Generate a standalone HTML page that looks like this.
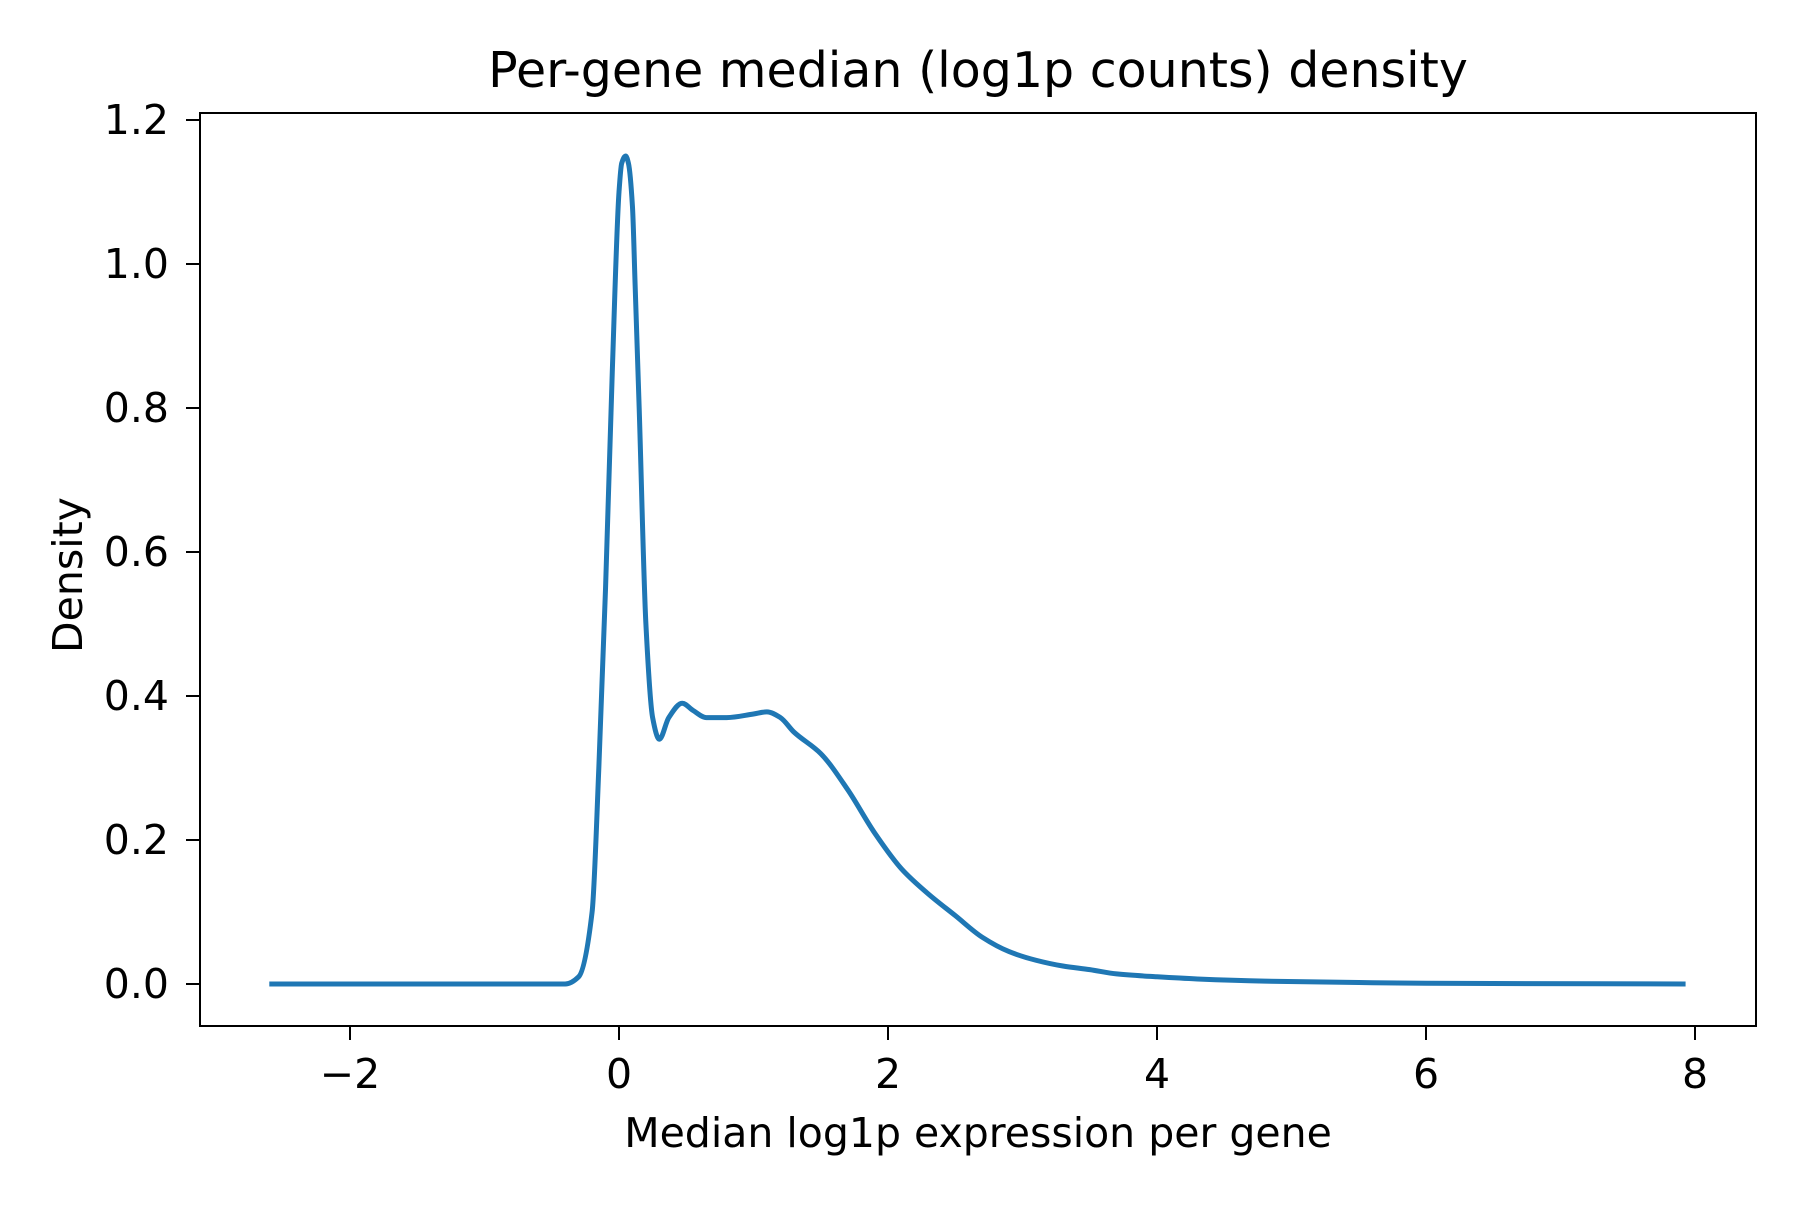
<!DOCTYPE html>
<html><head><meta charset="utf-8"><style>
body{margin:0;background:#fff}
svg text{font-family:"DejaVu Sans","Liberation Sans",sans-serif;fill:#000}
</style></head><body>
<svg id="chart" width="1800" height="1200" viewBox="0 0 1800 1200">
<rect width="1800" height="1200" fill="#fff"/>
<text x="978" y="87" font-size="49" text-anchor="middle">Per-gene median (log1p counts) density</text>
<text x="978" y="1147" font-size="41" text-anchor="middle">Median log1p expression per gene</text>
<text transform="translate(82,575) rotate(-90)" font-size="41" text-anchor="middle">Density</text>
<g id="ticks"></g>
<path id="curve" fill="none" stroke="#1f77b4" stroke-width="5" stroke-linejoin="round"/>
<rect x="200" y="113" width="1556" height="913" fill="none" stroke="#000" stroke-width="2"/>
</svg>
<script>
const xs=[-2.6,-0.4,-0.3,-0.2,-0.15,-0.1,-0.05,0.0,0.02,0.05,0.07,0.1,0.12,0.15,0.2,0.25,0.3,0.37,0.47,0.55,0.65,0.8,1.0,1.1,1.2,1.3,1.5,1.7,1.9,2.1,2.3,2.5,2.7,2.9,3.1,3.3,3.5,3.7,4.0,4.3,4.8,5.5,6.0,7.93];
const ys=[0,0,0.01,0.1,0.3,0.55,0.85,1.1,1.14,1.15,1.14,1.08,0.97,0.8,0.5,0.37,0.34,0.37,0.39,0.38,0.37,0.37,0.375,0.378,0.37,0.35,0.32,0.27,0.21,0.16,0.125,0.095,0.065,0.045,0.033,0.025,0.02,0.014,0.01,0.007,0.004,0.002,0.001,0];
const xTicks=[-2,0,2,4,6,8];
const yTicks=[0.0,0.2,0.4,0.6,0.8,1.0,1.2];
const X=v=>619+v*134.5;
const Y=v=>984-v*720;
const g=document.getElementById('ticks');
const NS='http://www.w3.org/2000/svg';
xTicks.forEach(t=>{
 const l=document.createElementNS(NS,'line');
 
 
 l.setAttribute('x1',X(t));l.setAttribute('x2',X(t));l.setAttribute('y1',1026);l.setAttribute('y2',1040);l.setAttribute('stroke','#000');l.setAttribute('stroke-width','2');
 g.appendChild(l);
 const tx=document.createElementNS(NS,'text');
 
 
 tx.setAttribute('x',X(t));tx.setAttribute('y',1088);tx.setAttribute('font-size','41');tx.setAttribute('text-anchor','middle');
 tx.textContent=t<0?'\u2212'+Math.abs(t):String(t);
 g.appendChild(tx);
});
yTicks.forEach(t=>{
 const l=document.createElementNS(NS,'line');
 
 
 l.setAttribute('x1',186);l.setAttribute('x2',200);l.setAttribute('y1',Y(t));l.setAttribute('y2',Y(t));l.setAttribute('stroke','#000');l.setAttribute('stroke-width','2');
 g.appendChild(l);
 const tx=document.createElementNS(NS,'text');
 
 
 tx.setAttribute('x',169);tx.setAttribute('y',Y(t)+14);tx.setAttribute('font-size','41');tx.setAttribute('text-anchor','end');
 tx.textContent=t.toFixed(1);
 g.appendChild(tx);
});
const n=xs.length;
const dk=[],m=new Array(n);
for(let i=0;i<n-1;i++)dk.push((ys[i+1]-ys[i])/(xs[i+1]-xs[i]));
m[0]=dk[0];m[n-1]=dk[n-2];
for(let i=1;i<n-1;i++){
 if(dk[i-1]*dk[i]<=0)m[i]=0;
 else{const h0=xs[i]-xs[i-1],h1=xs[i+1]-xs[i];const w1=2*h1+h0,w2=h1+2*h0;m[i]=(w1+w2)/(w1/dk[i-1]+w2/dk[i]);}
}
let d='M'+X(xs[0])+','+Y(ys[0]);
for(let i=0;i<n-1;i++){
 const h=xs[i+1]-xs[i];
 const c1x=xs[i]+h/3,c1y=ys[i]+m[i]*h/3;
 const c2x=xs[i+1]-h/3,c2y=ys[i+1]-m[i+1]*h/3;
 d+=` C${X(c1x)},${Y(c1y)} ${X(c2x)},${Y(c2y)} ${X(xs[i+1])},${Y(ys[i+1])}`;
}
document.getElementById('curve').setAttribute('d',d);
</script>
</body></html>
